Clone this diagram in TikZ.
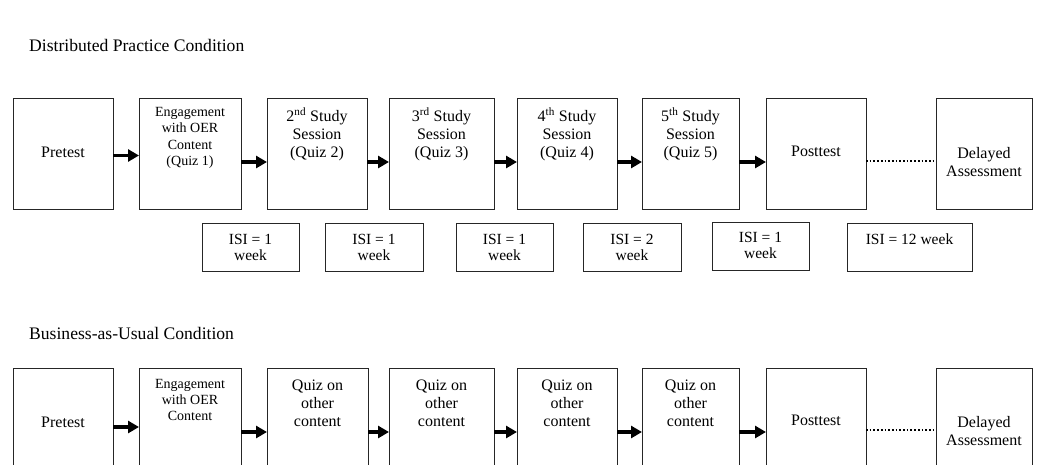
\documentclass[tikz,border=0pt]{standalone}
\usepackage{fontspec}
\setmainfont{Liberation Serif}
\usetikzlibrary{arrows.meta}
\tikzset{
  box/.style={draw=black!85, line width=0.8pt, inner sep=0pt, outer sep=0pt},
  txt/.style={align=center, inner sep=0pt, font=\fontsize{16}{18}\selectfont},
  smalltxt/.style={align=center, inner sep=0pt, font=\fontsize{14}{16.3}\selectfont},
  isitxt/.style={align=center, inner sep=0pt, font=\fontsize{15.5}{16}\selectfont},
  title/.style={anchor=base west, inner sep=0pt, font=\fontsize{17.6}{20}\selectfont},
  arr/.style={line width=3.4pt, -{Triangle[length=11pt,width=12pt]}},
  dots/.style={line width=1.7pt, dotted}
}
\begin{document}
\begin{tikzpicture}[x=1pt,y=-1pt]
\useasboundingbox (0,0) rectangle (1037,464);
\clip (0,0) rectangle (1037,464);
% titles
\node[title] (t1) at (29,51) {Distributed Practice Condition};
\node[title] (t2) at (29,339) {Business-as-Usual Condition};

% ---------- top row ----------
\node[box, minimum width=100pt, minimum height=111pt] (a1) at (63,153.5) {};
\node[box, minimum width=102pt, minimum height=111pt] (a2) at (190,153.5) {};
\node[box, minimum width=100pt, minimum height=111pt] (a3) at (317,153.5) {};
\node[box, minimum width=105pt, minimum height=111pt] (a4) at (441.5,153.5) {};
\node[box, minimum width=100pt, minimum height=111pt] (a5) at (567,153.5) {};
\node[box, minimum width=97pt, minimum height=111pt] (a6) at (690.5,153.5) {};
\node[box, minimum width=100pt, minimum height=111pt] (a7) at (816,153.5) {};
\node[box, minimum width=96pt, minimum height=111pt] (a8) at (984,153.5) {};

\node[txt] (ta1) at (63,152) {Pretest};
\node[smalltxt] (ta2) at (190,138) {Engagement\\with OER\\Content\\(Quiz 1)};
\node[txt] (ta3) at (317,134) {2\textsuperscript{nd} Study\\Session\\(Quiz 2)};
\node[txt] (ta4) at (441.5,134) {3\textsuperscript{rd} Study\\Session\\(Quiz 3)};
\node[txt] (ta5) at (567,134) {4\textsuperscript{th} Study\\Session\\(Quiz 4)};
\node[txt] (ta6) at (690.5,134) {5\textsuperscript{th} Study\\Session\\(Quiz 5)};
\node[txt] (ta7) at (816,151) {Posttest};
\node[txt] (ta8) at (984,162) {Delayed\\Assessment};

\draw[arr] ([yshift=-2pt]a1.east) -- ([yshift=-2pt]a2.west);
\draw[arr] ([yshift=-8.5pt]a2.east) -- ([yshift=-8.5pt]a3.west);
\draw[arr] ([yshift=-8.5pt]a3.east) -- ([yshift=-8.5pt]a4.west);
\draw[arr] ([yshift=-8.5pt]a4.east) -- ([yshift=-8.5pt]a5.west);
\draw[arr] ([yshift=-8.5pt]a5.east) -- ([yshift=-8.5pt]a6.west);
\draw[arr] ([yshift=-8.5pt]a6.east) -- ([yshift=-8.5pt]a7.west);
\draw[dots] ([yshift=-7.5pt]a7.east) -- ([yshift=-7.5pt]a8.west);

% ISI boxes
\node[box, minimum width=97pt, minimum height=48pt] (i1) at (250.5,247) {};
\node[box, minimum width=98pt, minimum height=48pt] (i2) at (374,247) {};
\node[box, minimum width=97pt, minimum height=48pt] (i3) at (504.5,247) {};
\node[box, minimum width=98pt, minimum height=48pt] (i4) at (632,247) {};
\node[box, minimum width=97pt, minimum height=48pt] (i5) at (760.5,246) {};
\node[box, minimum width=125pt, minimum height=48pt] (i6) at (909.5,247) {};
\node[isitxt] (ti1) at (250.5,247) {ISI = 1\\week};
\node[isitxt] (ti2) at (374,247) {ISI = 1\\week};
\node[isitxt] (ti3) at (504.5,247) {ISI = 1\\week};
\node[isitxt] (ti4) at (632,247) {ISI = 2\\week};
\node[isitxt] (ti5) at (760.5,245) {ISI = 1\\week};
\node[isitxt] (ti6) at (909.5,239) {ISI = 12 week};

% ---------- bottom row ----------
\node[box, minimum width=100pt, minimum height=111pt] (b1) at (63,423.5) {};
\node[box, minimum width=102pt, minimum height=111pt] (b2) at (190,423.5) {};
\node[box, minimum width=101pt, minimum height=111pt] (b3) at (317.5,423.5) {};
\node[box, minimum width=105pt, minimum height=111pt] (b4) at (441.5,423.5) {};
\node[box, minimum width=100pt, minimum height=111pt] (b5) at (567,423.5) {};
\node[box, minimum width=97pt, minimum height=111pt] (b6) at (690.5,423.5) {};
\node[box, minimum width=100pt, minimum height=111pt] (b7) at (816,423.5) {};
\node[box, minimum width=96pt, minimum height=111pt] (b8) at (984,423.5) {};

\node[txt] (tb1) at (63,422) {Pretest};
\node[smalltxt] (tb2) at (190,400) {Engagement\\with OER\\Content};
\node[txt] (tb3) at (317.5,403.5) {Quiz on\\other\\content};
\node[txt] (tb4) at (441.5,403.5) {Quiz on\\other\\content};
\node[txt] (tb5) at (567,403.5) {Quiz on\\other\\content};
\node[txt] (tb6) at (690.5,403.5) {Quiz on\\other\\content};
\node[txt] (tb7) at (816,420) {Posttest};
\node[txt] (tb8) at (984,431) {Delayed\\Assessment};

\draw[arr] ([yshift=-3.5pt]b1.east) -- ([yshift=-3.5pt]b2.west);
\draw[arr] ([yshift=-8.5pt]b2.east) -- ([yshift=-8.5pt]b3.west);
\draw[arr] ([yshift=-8.5pt]b3.east) -- ([yshift=-8.5pt]b4.west);
\draw[arr] ([yshift=-8.5pt]b4.east) -- ([yshift=-8.5pt]b5.west);
\draw[arr] ([yshift=-8.5pt]b5.east) -- ([yshift=-8.5pt]b6.west);
\draw[arr] ([yshift=-8.5pt]b6.east) -- ([yshift=-8.5pt]b7.west);
\draw[dots] ([yshift=-6.5pt]b7.east) -- ([yshift=-6.5pt]b8.west);
\end{tikzpicture}
\end{document}
